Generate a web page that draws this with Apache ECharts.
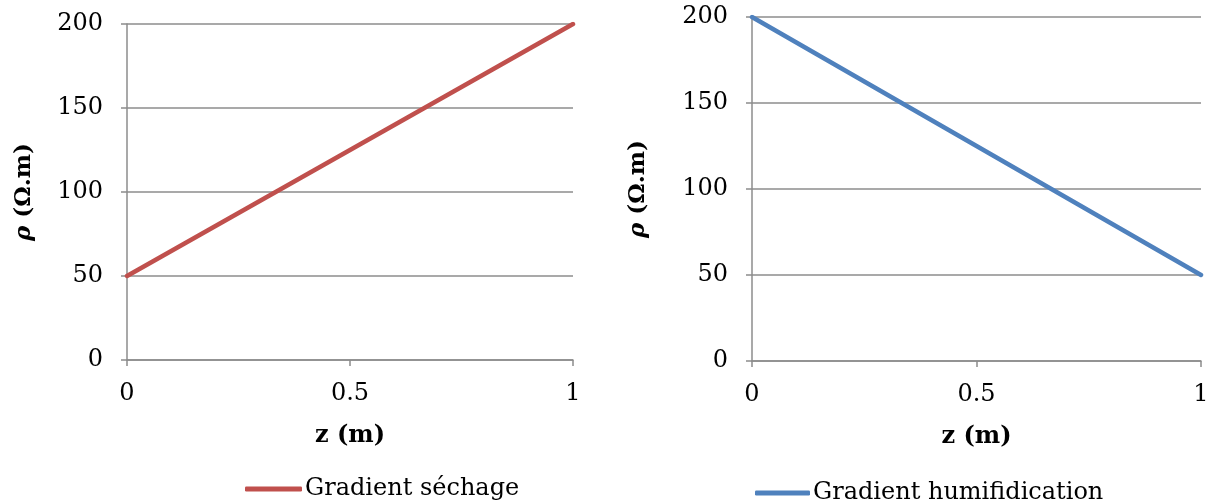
<!DOCTYPE html>
<html>
<head>
<meta charset="utf-8">
<script src="https://cdn.jsdelivr.net/npm/echarts@6/dist/echarts.min.js"></script>
<style>
html,body{margin:0;padding:0;background:#fff;}
#c{width:1214px;height:504px;}
</style>
</head>
<body>
<div id="c"></div>
<script>
var zValues = [0, 1];
var sechageValues = [50, 200];
var humidValues = [200, 50];
var seriesNames = ['Gradient séchage', 'Gradient humifidication'];
var xTickLabels = ['0', '0.5', '1'];
var yTickLabels = ['0', '50', '100', '150', '200'];
var xName = 'z (m)';
var yName = '{r|ρ} (Ω.m)';

var FONT = 'DejaVu Serif';
var GRAY = '#8c8c8c';
var FS = 24;

function pairs(xs, ys) { return xs.map(function (x, i) { return [x, ys[i]]; }); }

function xAxis(idx) {
  return {
    type: 'value', gridIndex: idx, min: 0, max: 1, interval: 0.5,
    name: xName, nameLocation: 'middle', nameGap: 64,
    nameTextStyle: { fontFamily: FONT, fontSize: FS, fontWeight: 'bold', color: '#000' },
    axisLine: { show: true, lineStyle: { color: GRAY, width: 1.5 } },
    axisTick: { show: true, length: 6, inside: false, lineStyle: { color: GRAY, width: 1.5 } },
    splitLine: { show: false },
    axisLabel: { fontFamily: FONT, fontSize: FS, color: '#000', margin: 22,
      formatter: function (v) { var i = Math.round(v / 0.5); return xTickLabels[i] !== undefined ? xTickLabels[i] : ''; } }
  };
}
function yAxis(idx, gap) {
  return {
    type: 'value', gridIndex: idx, min: 0, max: 200, interval: 50,
    name: yName, nameLocation: 'middle', nameGap: gap, nameRotate: 90,
    nameTextStyle: { fontFamily: FONT, fontSize: 23, fontWeight: 'bold', color: '#000',
      rich: { r: { fontFamily: FONT, fontSize: 23, fontWeight: 'bold', fontStyle: 'italic', color: '#000' } } },
    axisLine: { show: true, lineStyle: { color: GRAY, width: 1.5 } },
    axisTick: { show: true, length: 6, inside: false, lineStyle: { color: GRAY, width: 1.5 } },
    splitLine: { show: true, lineStyle: { color: GRAY, width: 1.5 } },
    axisLabel: { fontFamily: FONT, fontSize: FS, color: '#000', margin: 24,
      formatter: function (v) { var i = Math.round(v / 50); return yTickLabels[i] !== undefined ? yTickLabels[i] : ''; } }
  };
}

var chart = echarts.init(document.getElementById('c'), null, { renderer: 'canvas' });
chart.setOption({
  animation: false,
  backgroundColor: '#fff',
  grid: [
    { left: 127, top: 24, width: 446, height: 336 },
    { left: 752, top: 17, width: 449, height: 344 }
  ],
  xAxis: [xAxis(0), xAxis(1)],
  yAxis: [yAxis(0, 91), yAxis(1, 102)],
  legend: [
    { data: [seriesNames[0]], left: 240, top: 472, icon: 'roundRect', itemWidth: 57, itemHeight: 5, itemGap: 0,
      textStyle: { fontFamily: FONT, fontSize: FS, color: '#000', padding: [0, 0, 0, -2] } },
    { data: [seriesNames[1]], left: 750, top: 476, icon: 'roundRect', itemWidth: 55, itemHeight: 5, itemGap: 0,
      textStyle: { fontFamily: FONT, fontSize: FS, color: '#000', padding: [0, 0, 0, -2] } }
  ],
  series: [
    { name: seriesNames[0], type: 'line', xAxisIndex: 0, yAxisIndex: 0, data: pairs(zValues, sechageValues),
      showSymbol: false, symbol: 'none', color: '#C0504D', lineStyle: { width: 4.5, color: '#C0504D', cap: 'round' } },
    { name: seriesNames[1], type: 'line', xAxisIndex: 1, yAxisIndex: 1, data: pairs(zValues, humidValues),
      showSymbol: false, symbol: 'none', color: '#4F81BD', lineStyle: { width: 4.5, color: '#4F81BD', cap: 'round' } }
  ]
});
</script>
</body>
</html>
